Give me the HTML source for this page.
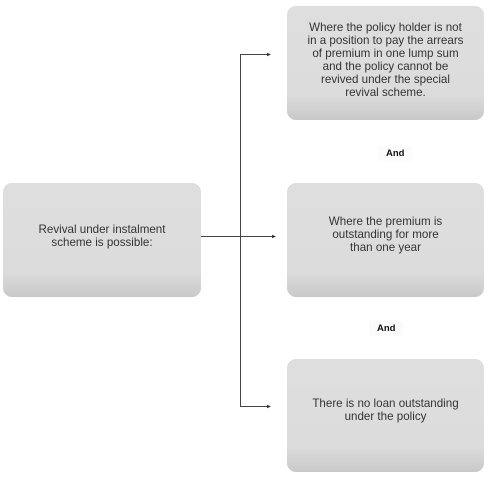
<!DOCTYPE html>
<html><head><meta charset="utf-8"><style>
html,body{margin:0;padding:0;background:#fff;width:497px;height:480px;overflow:hidden;position:relative;font-family:"Liberation Sans",Arial,sans-serif;}
.box{position:absolute;border-radius:9px;background:linear-gradient(to bottom,#dedede 0%,#dcdcdc 78%,#c9c9c9 100%);color:#333;font-size:11.6px;line-height:13.1px;text-align:center;display:flex;align-items:flex-start;justify-content:center;box-sizing:border-box;}
.and{position:absolute;font-size:9.5px;font-weight:bold;color:#111;background:#fbfbfb;padding:2px 8px;}
</style></head><body>
<div class="box" style="left:287px;top:6px;width:197px;height:114px;padding-top:15px;">Where the policy holder is not<br>in a position to pay the arrears<br>of premium in one lump sum<br>and the policy cannot be<br>revived under the special<br>revival scheme.</div>
<div class="and" style="left:378px;top:146px;">And</div>
<div class="box" style="left:287px;top:183px;width:197px;height:114px;padding-top:32px;">Where the premium is<br>outstanding for more<br>than one year</div>
<div class="and" style="left:369px;top:321px;">And</div>
<div class="box" style="left:287px;top:359px;width:197px;height:113px;padding-top:38px;">There is no loan outstanding<br>under the policy</div>
<div class="box" style="left:3px;top:183px;width:198px;height:114px;padding-top:40px;">Revival under instalment<br>scheme is possible:</div>
<svg width="497" height="480" style="position:absolute;left:0;top:0">
<g stroke="#444" stroke-width="1" fill="none">
<path d="M201 236.5H272"/>
<path d="M240.5 54V406"/>
<path d="M240 54.5H267"/>
<path d="M240 406.5H267"/>
</g>
<g fill="#333">
<path d="M276 236.5l-4-1.8v3.6z"/>
<path d="M271 54.5l-4-1.8v3.6z"/>
<path d="M271 406.5l-4-1.8v3.6z"/>
</g>
</svg>
</body></html>
